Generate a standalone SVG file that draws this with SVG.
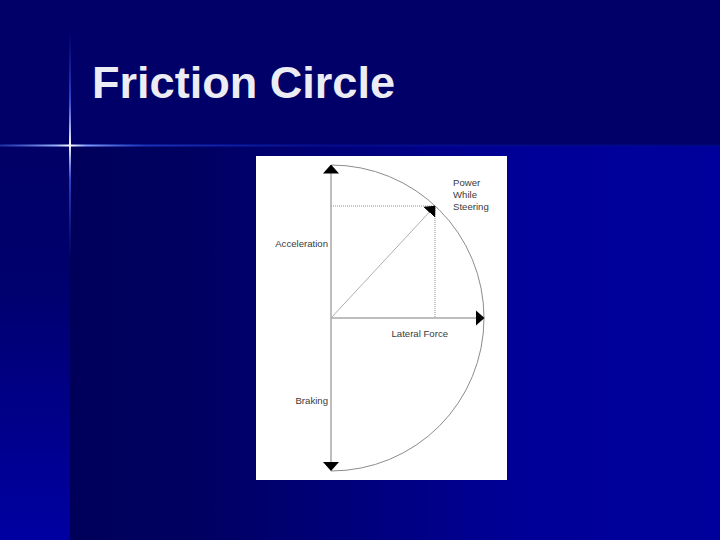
<svg xmlns="http://www.w3.org/2000/svg" width="720" height="540" viewBox="0 0 720 540">
  <defs>
    <linearGradient id="lower" x1="70" y1="0" x2="720" y2="0" gradientUnits="userSpaceOnUse">
      <stop offset="0" stop-color="#00005a"/>
      <stop offset="0.2" stop-color="#000062"/>
      <stop offset="0.7" stop-color="#000098"/>
      <stop offset="1" stop-color="#00009c"/>
    </linearGradient>
    <linearGradient id="strip" x1="0" y1="146" x2="0" y2="540" gradientUnits="userSpaceOnUse">
      <stop offset="0" stop-color="#000066"/>
      <stop offset="0.35" stop-color="#00006e"/>
      <stop offset="1" stop-color="#0000a2"/>
    </linearGradient>
    <linearGradient id="hglow" x1="0" y1="0" x2="720" y2="0" gradientUnits="userSpaceOnUse">
      <stop offset="0" stop-color="#3050d0" stop-opacity="0.6"/>
      <stop offset="0.08" stop-color="#a0b8ff"/>
      <stop offset="0.0972" stop-color="#ffffff"/>
      <stop offset="0.12" stop-color="#7f9cff"/>
      <stop offset="0.2" stop-color="#2040d0" stop-opacity="0.8"/>
      <stop offset="0.45" stop-color="#0a1ab0" stop-opacity="0.5"/>
      <stop offset="1" stop-color="#0010a0" stop-opacity="0.4"/>
    </linearGradient>
    <linearGradient id="vglow" x1="0" y1="30" x2="0" y2="260" gradientUnits="userSpaceOnUse">
      <stop offset="0" stop-color="#2040d0" stop-opacity="0"/>
      <stop offset="0.3" stop-color="#4060f0" stop-opacity="0.7"/>
      <stop offset="0.5" stop-color="#ffffff"/>
      <stop offset="0.65" stop-color="#4060f0" stop-opacity="0.7"/>
      <stop offset="1" stop-color="#2040d0" stop-opacity="0"/>
    </linearGradient>
    <marker id="ah" markerUnits="userSpaceOnUse" markerWidth="9" markerHeight="16" refX="8.5" refY="8" orient="auto">
      <path d="M0,0 L9,8 L0,16 Z" fill="#000"/>
    </marker>
    <style>
      .axis { stroke: #a8a8a8; stroke-width: 1.5; fill: none; }
      .diag { stroke: #b0b0b0; stroke-width: 1; fill: none; }
      .dot { stroke: #909090; stroke-width: 1; stroke-dasharray: 1 1; fill: none; }
      .arc { stroke: #8c8c8c; stroke-width: 1; fill: none; }
      .lbl { font-family: "Liberation Sans", Arial, sans-serif; font-size: 9.6px; fill: #3a3a3a; }
      .title { font-family: "Liberation Sans", Arial, sans-serif; font-size: 44px; font-weight: bold; fill: #ececf4; }
    </style>
  </defs>

  <g id="background">
    <rect x="0" y="0" width="720" height="540" fill="url(#lower)"/>
    <rect x="0" y="146" width="70" height="394" fill="url(#strip)"/>
    <rect x="0" y="0" width="720" height="146" fill="#000068"/>
    <rect x="0" y="144.5" width="720" height="2" fill="url(#hglow)"/>
    <rect x="69" y="30" width="2" height="230" fill="url(#vglow)"/>
  </g>

  <g id="title">
    <text class="title" x="92" y="98" textLength="303" lengthAdjust="spacingAndGlyphs">Friction Circle</text>
  </g>

  <g id="panel">
    <rect x="256" y="156" width="251" height="324" fill="#ffffff"/>
  </g>

  <g id="connectors">
    <path class="arc" d="M331,165 A153,153 0 0 1 331,471"/>
    <line class="dot" x1="331" y1="206" x2="435" y2="206"/>
    <line class="dot" x1="435" y1="206" x2="435" y2="318"/>
    <line class="axis" x1="331" y1="318" x2="331" y2="165" marker-end="url(#ah)"/>
    <line class="axis" x1="331" y1="318" x2="331" y2="470.5" marker-end="url(#ah)"/>
    <line class="axis" x1="331" y1="318" x2="484" y2="318" marker-end="url(#ah)"/>
    <line class="diag" x1="331" y1="318" x2="435" y2="206" marker-end="url(#ah)"/>
  </g>

  <g id="labels">
    <g id="power-while-steering">
      <text class="lbl" x="453" y="186">Power</text>
      <text class="lbl" x="453" y="198">While</text>
      <text class="lbl" x="453" y="209.5">Steering</text>
    </g>
    <g id="acceleration"><text class="lbl" x="328" y="247" text-anchor="end">Acceleration</text></g>
    <g id="lateral-force"><text class="lbl" x="391.5" y="336.5">Lateral Force</text></g>
    <g id="braking"><text class="lbl" x="328" y="403.5" text-anchor="end">Braking</text></g>
  </g>
</svg>
